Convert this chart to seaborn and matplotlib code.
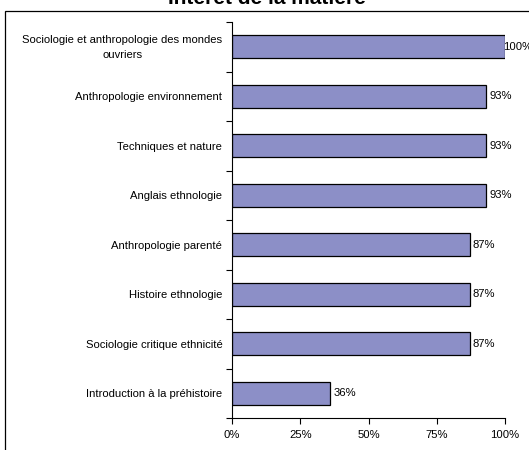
import matplotlib
matplotlib.use("Agg")
import matplotlib.pyplot as plt
import matplotlib.patches as mpatches
import matplotlib.transforms as mtransforms
from matplotlib.ticker import FixedLocator, PercentFormatter
import seaborn as sns
import pandas as pd

categories = [
    "Sociologie et anthropologie des mondes\nouvriers",
    "Anthropologie environnement",
    "Techniques et nature",
    "Anglais ethnologie",
    "Anthropologie parenté",
    "Histoire ethnologie",
    "Sociologie critique ethnicité",
    "Introduction à la préhistoire",
]
values = [100, 93, 93, 93, 87, 87, 87, 36]
value_labels = ["100%", "93%", "93%", "93%", "87%", "87%", "87%", "36%"]
x_ticks = [0, 25, 50, 75, 100]
title = "Intérêt de la matière"

sns.set_style("white")
plt.rcParams["font.family"] = ["Liberation Sans", "DejaVu Sans"]
plt.rcParams["text.color"] = "black"
plt.rcParams["xtick.color"] = "black"
plt.rcParams["ytick.color"] = "black"

FS = 8.1

fig = plt.figure(figsize=(5.29, 4.5), dpi=100)
ax = fig.add_axes([232 / 529, 1 - 418 / 450, (505 - 232) / 529, (418 - 22) / 450])

df = pd.DataFrame({"cat": categories, "val": values})
sns.barplot(data=df, x="val", y="cat", orient="h", color="#8C8FC7",
            saturation=1, edgecolor="black", linewidth=0.9, width=0.46, ax=ax)

ax.set_xlim(0, 100)
ax.set_ylim(len(categories) - 0.5, -0.5)
ax.set_xlabel("")
ax.set_ylabel("")

for i, (v, lab) in enumerate(zip(values, value_labels)):
    ax.text(v + 1.2 if v < 100 else v - 0.8, i, lab, va="center", ha="left",
            fontsize=FS, color="black", clip_on=False)

ax.xaxis.set_major_locator(FixedLocator(x_ticks))
ax.xaxis.set_major_formatter(PercentFormatter(decimals=0))
ax.tick_params(axis="x", direction="out", length=4, width=0.8, color="black",
               labelcolor="black", labelsize=FS, pad=5, bottom=True)
ax.set_yticks(range(len(categories)))
ax.set_yticklabels(categories, multialignment="center", linespacing=1.65,
                   color="black")
ax.tick_params(axis="y", which="major", length=0, labelsize=FS, pad=7,
               labelcolor="black")
ax.yaxis.set_minor_locator(FixedLocator([i - 0.5 for i in range(len(categories) + 1)]))
ax.tick_params(axis="y", which="minor", direction="out", length=4, width=0.8,
               color="black", left=True)

# nudge the two-line label up slightly
first = ax.get_yticklabels()[0]
first.set_transform(first.get_transform() +
                    mtransforms.ScaledTranslation(0, 3 / 100, fig.dpi_scale_trans))

for s in ["top", "right"]:
    ax.spines[s].set_visible(False)
for s in ["left", "bottom"]:
    ax.spines[s].set_visible(True)
    ax.spines[s].set_color("black")
    ax.spines[s].set_linewidth(0.8)

frame = mpatches.Rectangle((5 / 529, -0.1), 1.2, 1 - 11 / 450 + 0.1,
                           transform=fig.transFigure, fill=False,
                           edgecolor="black", linewidth=0.9, clip_on=False)
fig.patches.append(frame)

fig.text(267 / 529, 1 - 4 / 450, title, ha="center", va="baseline",
         fontsize=15, fontweight="bold", color="black")

fig.savefig("out.png", dpi=100)
